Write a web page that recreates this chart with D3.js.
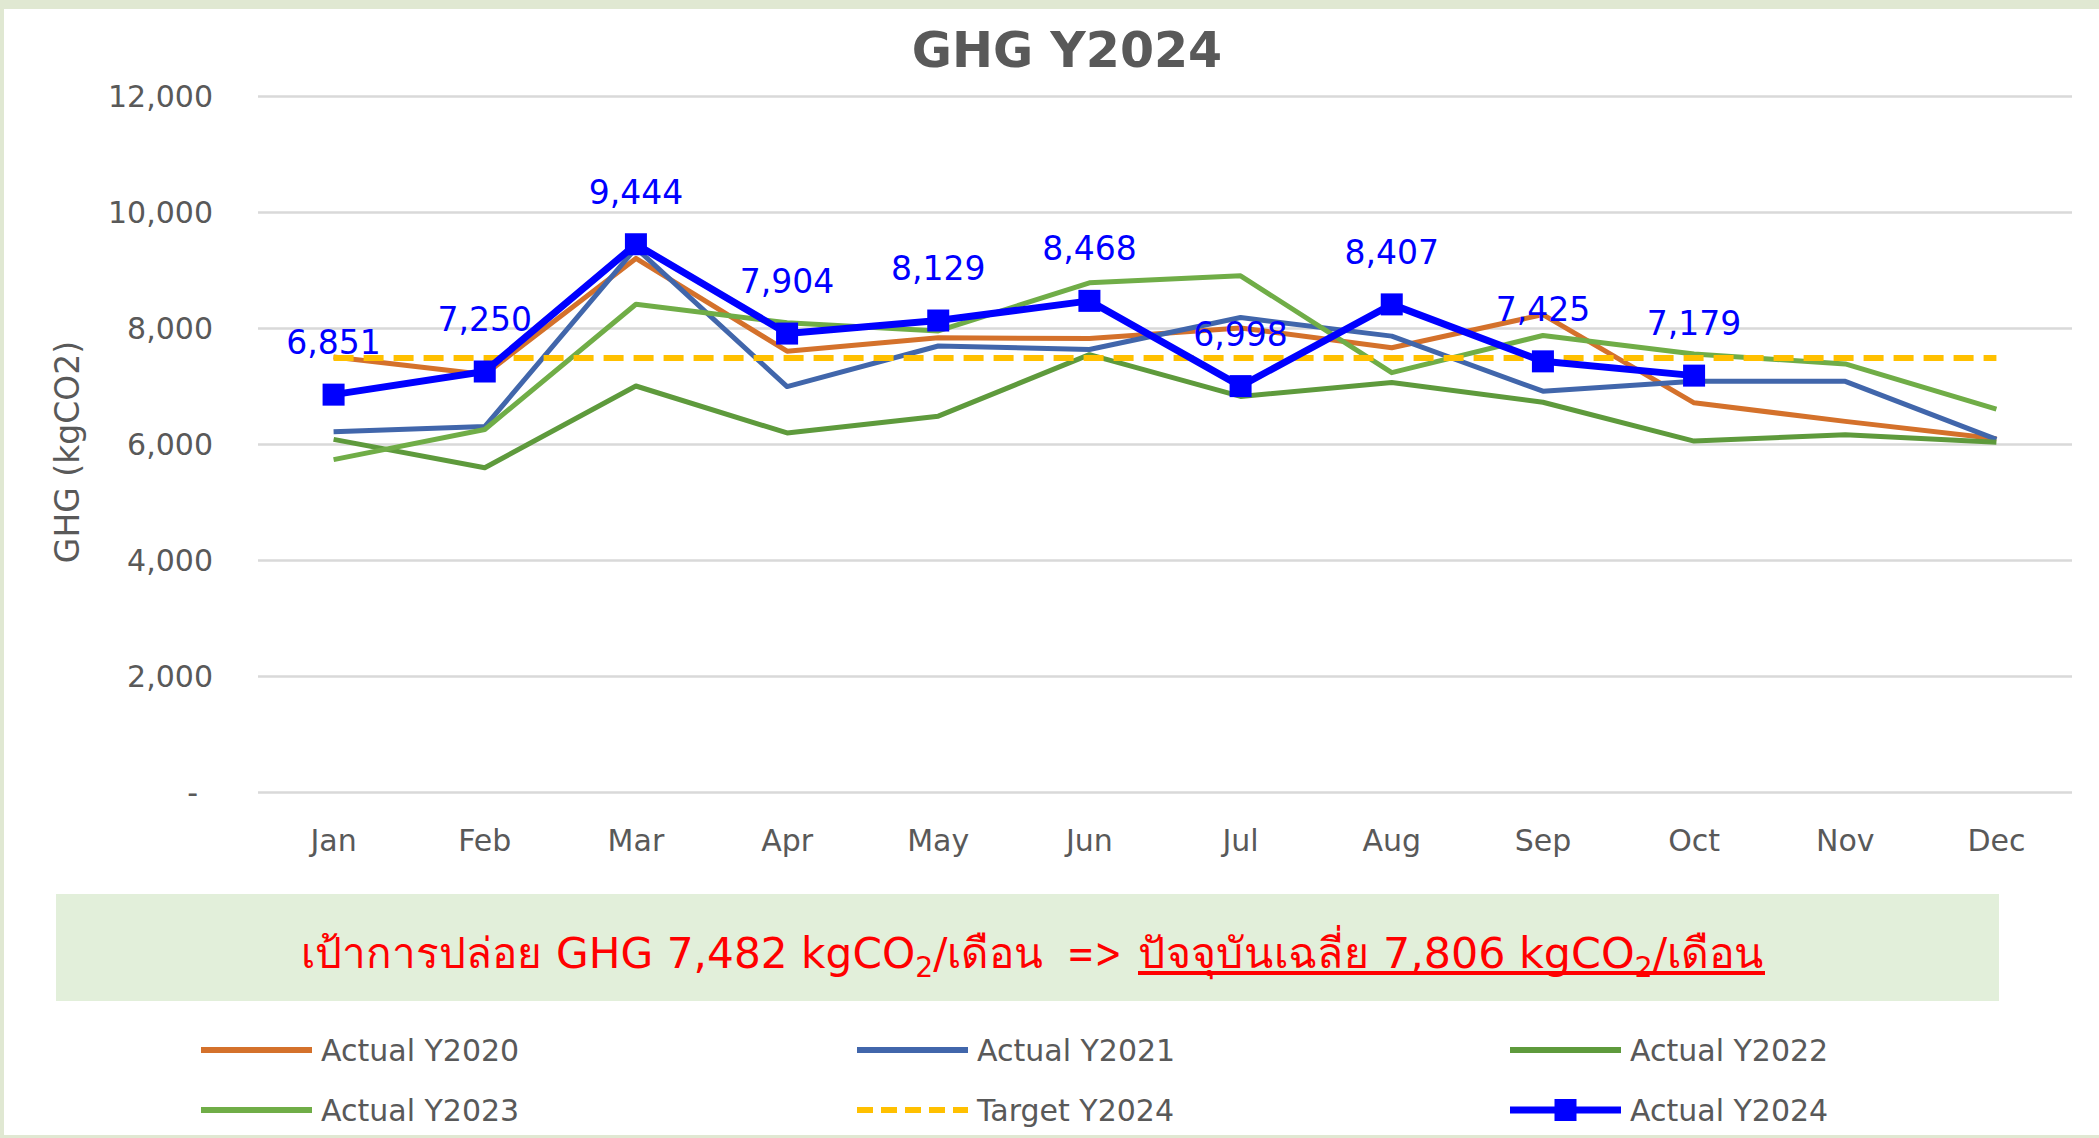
<!DOCTYPE html>
<html>
<head>
<meta charset="utf-8">
<script src="https://cdn.jsdelivr.net/npm/d3@7"></script>
<style>
  html, body { margin: 0; padding: 0; background: #e0e8d2; }
  svg { display: block; }
  text { font-family: Tahoma, "DejaVu Sans", sans-serif; }
</style>
</head>
<body>
<svg id="chart" width="2099" height="1138"></svg>
<script>
// ---- data ----
const months = ["Jan", "Feb", "Mar", "Apr", "May", "Jun", "Jul", "Aug", "Sep", "Oct", "Nov", "Dec"];
const actual2020 = [7500, 7200, 9200, 7600, 7830, 7820, 8000, 7660, 8230, 6710, 6390, 6090];
const actual2021 = [6210, 6300, 9380, 6990, 7690, 7630, 8180, 7860, 6910, 7080, 7080, 6080];
const actual2022 = [6080, 5590, 7000, 6190, 6480, 7540, 6820, 7060, 6720, 6050, 6160, 6030];
const actual2023 = [5730, 6250, 8410, 8090, 7950, 8780, 8900, 7230, 7870, 7550, 7380, 6600];
const target2024 = [7482, 7482, 7482, 7482, 7482, 7482, 7482, 7482, 7482, 7482, 7482, 7482];
const actual2024 = [6851, 7250, 9444, 7904, 8129, 8468, 6998, 8407, 7425, 7179, null, null];
const yTicks = [0, 2000, 4000, 6000, 8000, 10000, 12000];
const seriesNames = ["Actual Y2020", "Actual Y2021", "Actual Y2022", "Actual Y2023", "Target Y2024", "Actual Y2024"];
const titleText = "GHG Y2024";
const yAxisTitle = "GHG (kgCO2)";
const noteTarget = 7482;
const noteAverage = 7806;

// ---- styles ----
const colors = {
  "Actual Y2020": "#d4712b",
  "Actual Y2021": "#4166ab",
  "Actual Y2022": "#5e9a3c",
  "Actual Y2023": "#70ad47",
  "Target Y2024": "#ffc000",
  "Actual Y2024": "#0000ff"
};
const seriesData = {
  "Actual Y2020": actual2020,
  "Actual Y2021": actual2021,
  "Actual Y2022": actual2022,
  "Actual Y2023": actual2023,
  "Target Y2024": target2024,
  "Actual Y2024": actual2024
};
const textGray = "#595959";

const svg = d3.select("#chart");
// white panel
svg.append("rect").attr("x", 4).attr("y", 9).attr("width", 2095).attr("height", 1126).attr("fill", "#ffffff");

const plot = { left: 258, right: 2072, top: 96, bottom: 792 };
const x = d3.scaleBand().domain(months).range([plot.left, plot.right]).paddingInner(0).paddingOuter(0);
const xc = m => x(m) + x.bandwidth() / 2;
const y = d3.scaleLinear().domain([0, 12000]).range([plot.bottom, plot.top]);

// gridlines + y labels via axis
const yAxis = d3.axisLeft(y).tickValues(yTicks)
  .tickSize(-(plot.right - plot.left))
  .tickPadding(45)
  .tickFormat(d => d === 0 ? "-" : d3.format(",")(d));
const gy = svg.append("g").attr("transform", `translate(${plot.left},0)`).call(yAxis);
gy.select(".domain").remove();
gy.selectAll(".tick line").attr("stroke", "#d9d9d9").attr("stroke-width", 2.5);
gy.selectAll(".tick text")
  .attr("fill", textGray).attr("font-size", 30)
  .attr("font-family", 'Tahoma, "DejaVu Sans", sans-serif')
  .attr("dy", "0.35em")
  .attr("dx", d => d === 0 ? -15 : 0);

// x labels via axis
const xAxis = d3.axisBottom(x).tickSize(0).tickPadding(38);
const gx = svg.append("g").attr("transform", `translate(0,${plot.bottom})`).call(xAxis);
gx.select(".domain").remove();
gx.selectAll(".tick text")
  .attr("fill", textGray).attr("font-size", 30)
  .attr("font-family", 'Tahoma, "DejaVu Sans", sans-serif');

// title
svg.append("text").attr("x", 1067).attr("y", 50).attr("text-anchor", "middle")
  .attr("dominant-baseline", "central")
  .attr("font-size", 49).attr("font-weight", "bold").attr("fill", textGray).text(titleText);

// y axis title
svg.append("text").attr("transform", "translate(67,452) rotate(-90)")
  .attr("text-anchor", "middle").attr("dominant-baseline", "central")
  .attr("font-size", 33).attr("fill", textGray).text(yAxisTitle);

// lines
const line = d3.line()
  .defined(d => d != null)
  .x((d, i) => xc(months[i]))
  .y(d => y(d));

const widths = { "Actual Y2024": 7 };
seriesNames.forEach(name => {
  const p = svg.append("path")
    .datum(seriesData[name])
    .attr("fill", "none")
    .attr("stroke", colors[name])
    .attr("stroke-width", widths[name] || 5)
    .attr("stroke-linejoin", "round")
    .attr("d", line);
  if (name === "Target Y2024") p.attr("stroke-dasharray", "20,10").attr("stroke-width", 6);
});

// markers for 2024
const pts = actual2024.map((v, i) => ({ v, m: months[i] })).filter(d => d.v != null);
const ms = 22;
svg.append("g").selectAll("rect").data(pts).join("rect")
  .attr("x", d => xc(d.m) - ms / 2).attr("y", d => y(d.v) - ms / 2)
  .attr("width", ms).attr("height", ms).attr("fill", "#0000ff");

// data labels
svg.append("g").selectAll("text").data(pts).join("text")
  .attr("x", d => xc(d.m)).attr("y", d => y(d.v) - 52)
  .attr("text-anchor", "middle").attr("dominant-baseline", "central")
  .attr("font-size", 33).attr("fill", "#0000ff")
  .text(d => d3.format(",")(d.v));

// annotation box
svg.append("rect").attr("x", 56).attr("y", 894).attr("width", 1943).attr("height", 107).attr("fill", "#e2efda");
const thaiFont = 'Tahoma, "Noto Sans Thai", "Noto Sans Thai UI", Loma, Garuda, Norasi, Kinnari, "DejaVu Sans", sans-serif';
const fs = 42;
function noteText(xStart, width, lead, value) {
  const t = svg.append("text").attr("x", xStart).attr("y", 968)
    .attr("font-size", fs).attr("fill", "#ff0000").attr("font-family", thaiFont)
    .attr("textLength", width).attr("lengthAdjust", "spacingAndGlyphs");
  t.append("tspan").text(lead + d3.format(",")(value) + " kgCO");
  t.append("tspan").attr("font-size", 28).attr("dy", 9).text("2");
  t.append("tspan").attr("dy", -9).text("/เดือน");
  return t;
}
noteText(301, 742, "เป้าการปล่อย GHG ", noteTarget);
svg.append("text").attr("x", 1067).attr("y", 968).attr("font-size", fs).attr("fill", "#ff0000")
  .attr("font-family", thaiFont).attr("textLength", 55).attr("lengthAdjust", "spacingAndGlyphs").text("=>");
noteText(1138, 626, "ปัจจุบันเฉลี่ย ", noteAverage);
svg.append("line").attr("x1", 1138).attr("x2", 1765).attr("y1", 973).attr("y2", 973)
  .attr("stroke", "#ff0000").attr("stroke-width", 4);

// legend
const legCols = [201, 857, 1510];
const legRows = [1050, 1110];
const legLen = 111;
seriesNames.forEach((name, i) => {
  const lx = legCols[i % 3], ly = legRows[Math.floor(i / 3)];
  const g = svg.append("g");
  const l = g.append("line").attr("x1", lx).attr("x2", lx + legLen).attr("y1", ly).attr("y2", ly)
    .attr("stroke", colors[name]).attr("stroke-width", name === "Actual Y2024" ? 7 : 6);
  if (name === "Target Y2024") l.attr("stroke-dasharray", "16,8");
  if (name === "Actual Y2024") {
    g.append("rect").attr("x", lx + legLen / 2 - 11).attr("y", ly - 11).attr("width", 22).attr("height", 22).attr("fill", colors[name]);
  }
  g.append("text").attr("x", lx + legLen + 9).attr("y", ly).attr("dominant-baseline", "central")
    .attr("font-size", 30).attr("fill", textGray).text(name);
});
</script>
</body>
</html>
